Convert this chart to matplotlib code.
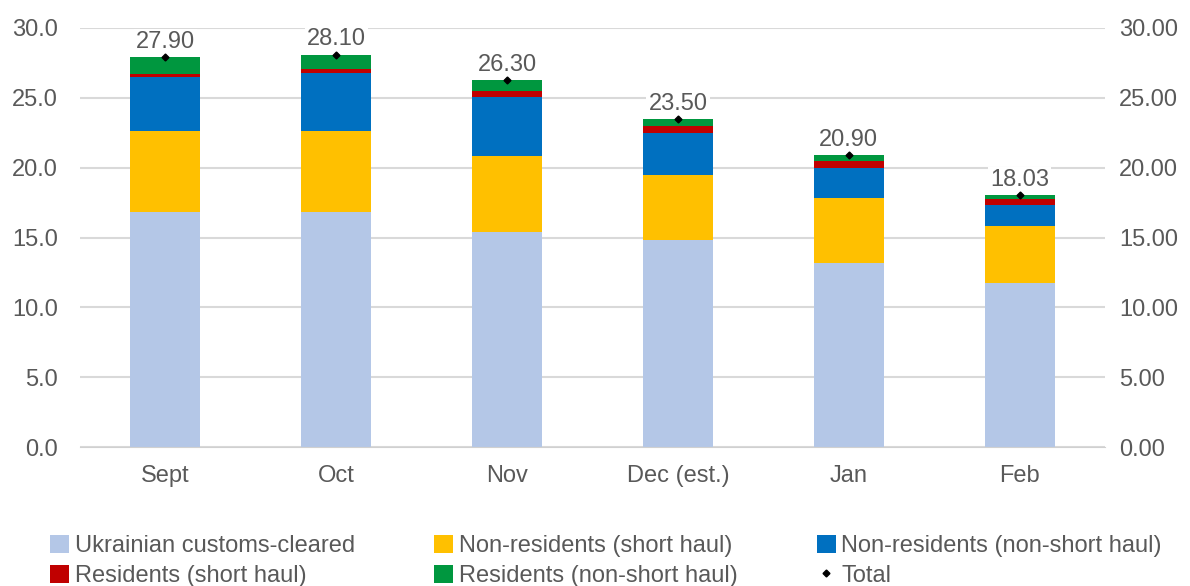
import matplotlib
matplotlib.use("Agg")
import matplotlib.pyplot as plt
import numpy as np

months = ["Sept", "Oct", "Nov", "Dec (est.)", "Jan", "Feb"]
ua_cleared = [16.8, 16.8, 15.4, 14.8, 13.2, 11.75]
nonres_short = [5.85, 5.8, 5.43, 4.7, 4.6, 4.1]
nonres_long = [3.85, 4.15, 4.2, 2.95, 2.2, 1.45]
res_short = [0.2, 0.3, 0.45, 0.5, 0.45, 0.45]
res_long = [1.2, 1.05, 0.82, 0.55, 0.45, 0.28]
total = [27.90, 28.10, 26.30, 23.50, 20.90, 18.03]

series = [
    ("Ukrainian customs-cleared", ua_cleared, "#b4c7e7"),
    ("Non-residents (short haul)", nonres_short, "#ffc000"),
    ("Non-residents (non-short haul)", nonres_long, "#0070c0"),
    ("Residents (short haul)", res_short, "#c00000"),
    ("Residents (non-short haul)", res_long, "#00973f"),
]

plt.rcParams["font.family"] = ["Liberation Sans", "DejaVu Sans"]
grey = "#595959"
fs = 17

fig = plt.figure(figsize=(11.9, 5.86), dpi=100)
ax = fig.add_axes([80 / 1190, 1 - 447 / 586, 1025 / 1190, 419 / 586])
ax2 = ax.twinx()

x = np.arange(len(months))
bottom = np.zeros(len(months))
handles = []
for name, vals, col in series:
    h = ax.bar(x, vals, 0.41, bottom=bottom, color=col, label=name, zorder=2)
    handles.append(h)
    bottom += np.array(vals)

ax.set_ylim(0, 30)
ax.set_xlim(-0.5, len(months) - 0.5)
ax.set_yticks(np.arange(0, 30.1, 5))
ax.set_yticklabels([f"{v:.1f}" for v in np.arange(0, 30.1, 5)])
ax.set_xticks(x)
ax.set_xticklabels(months)
ax.yaxis.grid(True, color="#d9d9d9", linewidth=1.5, zorder=0)
ax.set_axisbelow(True)
ax.tick_params(length=0, labelsize=fs, colors=grey)
ax.tick_params(axis="y", pad=16)
ax.tick_params(axis="x", pad=13)
for s in ax.spines.values():
    s.set_visible(False)
ax.spines["bottom"].set_visible(True)
ax.spines["bottom"].set_color("#d0d0d0")

ax2.set_ylim(0, 30)
ax2.set_yticks(np.arange(0, 30.1, 5))
ax2.set_yticklabels([f"{v:.2f}" for v in np.arange(0, 30.1, 5)])
ax2.tick_params(length=0, labelsize=fs, colors=grey, pad=10)
for s in ax2.spines.values():
    s.set_visible(False)
tot, = ax2.plot(x, total, linestyle="none", marker="D", markersize=3.5,
                color="black", label="Total", zorder=5)
handles.append(tot)
for xi, t in zip(x, total):
    ax2.annotate(f"{t:.2f}", (xi, t), xytext=(0, 3), textcoords="offset points",
                 ha="center", va="bottom", fontsize=fs, color=grey,
                 bbox=dict(facecolor="white", edgecolor="none", pad=1.5))

order = [0, 3, 1, 4, 2, 5]
fig.legend([handles[i] for i in order], [handles[i].get_label() for i in order],
           ncol=3, loc="upper left", bbox_to_anchor=(50 / 1190, 1 - 535 / 586),
           frameon=False, fontsize=fs, handlelength=0.8, handleheight=0.8,
           handletextpad=0.25, columnspacing=3.35, labelspacing=0.32,
           borderpad=0, borderaxespad=0, labelcolor=grey)

fig.savefig("out.png", dpi=100)
